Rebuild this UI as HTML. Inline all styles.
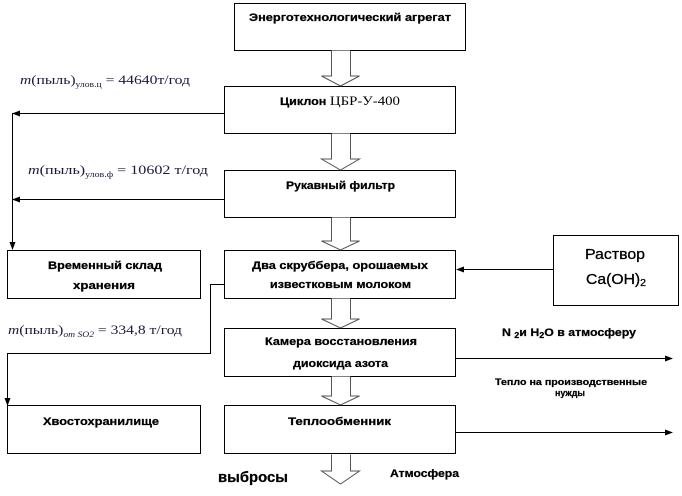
<!DOCTYPE html>
<html><head><meta charset="utf-8">
<style>
html,body{margin:0;padding:0;background:#fff;}
svg{display:block;}
.b{font-family:"Liberation Sans","DejaVu Sans",sans-serif;font-weight:bold;fill:#000;stroke:#000;stroke-width:0.25;}
.m{font-family:"Liberation Serif","DejaVu Serif",serif;fill:#1a1a3a;}
</style></head>
<body>
<svg width="682" height="496" viewBox="0 0 682 496" xmlns="http://www.w3.org/2000/svg">
<defs>
<marker id="ah" markerWidth="8" markerHeight="8" refX="7" refY="4" orient="auto" markerUnits="userSpaceOnUse">
<path d="M0,1 L8,4 L0,7 z" fill="#000"/>
</marker>
</defs>
<g fill="#fff" stroke="#000" stroke-width="1">
<rect x="234.5" y="3.5" width="231" height="47"/>
<rect x="224.5" y="86.5" width="231" height="47"/>
<rect x="224.5" y="170.5" width="231" height="47"/>
<rect x="224.5" y="250.5" width="231" height="48"/>
<rect x="224.5" y="328.5" width="231" height="48"/>
<rect x="224.5" y="405.5" width="231" height="48"/>
<rect x="7.5" y="250.5" width="193" height="48"/>
<rect x="7.5" y="405.5" width="193" height="48"/>
<rect x="553.5" y="235.5" width="125" height="70"/>
</g>
<g fill="#fff" stroke="#555" stroke-width="1">
<path d="M331.5,50.5 V76 H321.5 L340.5,86 L359.5,76 H350.5 V50.5"/>
<path d="M331.5,133.5 V159 H321.5 L340.5,170 L359.5,159 H350.5 V133.5"/>
<path d="M331.5,217.5 V241 H321.5 L340.5,250 L359.5,241 H350.5 V217.5"/>
<path d="M331.5,298.5 V319 H321.5 L340.5,328 L359.5,319 H350.5 V298.5"/>
<path d="M331.5,376.5 V396 H321.5 L340.5,405 L359.5,396 H350.5 V376.5"/>
<path d="M331.5,454.5 V471 H321.5 L340.5,484 L359.5,471 H350.5 V454.5"/>
</g>
<g stroke="#000" stroke-width="1" fill="none">
<line x1="224" y1="113.5" x2="13" y2="113.5" marker-end="url(#ah)"/>
<line x1="12.5" y1="113" x2="12.5" y2="249" marker-end="url(#ah)"/>
<line x1="224" y1="199.5" x2="13" y2="199.5" marker-end="url(#ah)"/>
<line x1="553" y1="269.5" x2="457" y2="269.5" marker-end="url(#ah)"/>
<polyline points="224,284.5 210.5,284.5 210.5,353.5 7.5,353.5"/>
<line x1="7.5" y1="353" x2="7.5" y2="405" marker-end="url(#ah)"/>
<line x1="456" y1="358.5" x2="672" y2="358.5" marker-end="url(#ah)"/>
<line x1="456" y1="432.5" x2="672" y2="432.5" marker-end="url(#ah)"/>
</g>
<text class="b" x="249" y="21" font-size="11" textLength="202" lengthAdjust="spacingAndGlyphs">Энерготехнологический агрегат</text>
<text x="280" y="105" font-size="11" textLength="120" lengthAdjust="spacingAndGlyphs"><tspan class="b">Циклон </tspan><tspan font-family="Liberation Serif, serif" font-size="13">ЦБР-У-400</tspan></text>
<text class="b" x="286" y="189" font-size="11" textLength="109" lengthAdjust="spacingAndGlyphs">Рукавный фильтр</text>
<text class="b" x="252" y="269" font-size="11" textLength="176" lengthAdjust="spacingAndGlyphs">Два скруббера, орошаемых</text>
<text class="b" x="270" y="288" font-size="11" textLength="141" lengthAdjust="spacingAndGlyphs">известковым молоком</text>
<text class="b" x="48" y="269" font-size="11" textLength="114" lengthAdjust="spacingAndGlyphs">Временный склад</text>
<text class="b" x="73" y="289" font-size="11" textLength="62" lengthAdjust="spacingAndGlyphs">хранения</text>
<text class="b" x="265" y="345" font-size="11" textLength="152" lengthAdjust="spacingAndGlyphs">Камера восстановления</text>
<text class="b" x="293" y="367" font-size="11" textLength="95" lengthAdjust="spacingAndGlyphs">диоксида азота</text>
<text class="b" x="288" y="425" font-size="11" textLength="103" lengthAdjust="spacingAndGlyphs">Теплообменник</text>
<text class="b" x="43" y="425" font-size="11" textLength="116" lengthAdjust="spacingAndGlyphs">Хвостохранилище</text>
<text class="b" x="218" y="482" font-size="15" textLength="70" lengthAdjust="spacingAndGlyphs">выбросы</text>
<text class="b" x="390" y="477" font-size="11" textLength="69" lengthAdjust="spacingAndGlyphs">Атмосфера</text>
<text x="585" y="259" font-size="15" font-family="Liberation Sans, sans-serif" stroke="#000" stroke-width="0.3" textLength="60" lengthAdjust="spacingAndGlyphs">Раствор</text>
<text x="586" y="284" font-size="15" font-family="Liberation Sans, sans-serif" stroke="#000" stroke-width="0.3" textLength="60" lengthAdjust="spacingAndGlyphs">Ca(OH)<tspan font-size="10" dy="2">2</tspan></text>
<text class="b" x="502" y="336" font-size="11" textLength="134" lengthAdjust="spacingAndGlyphs">N <tspan font-size="8" dy="2">2</tspan><tspan dy="-2">и H</tspan><tspan font-size="8" dy="2">2</tspan><tspan dy="-2">O в атмосферу</tspan></text>
<text class="b" x="495" y="385" font-size="9" textLength="152" lengthAdjust="spacingAndGlyphs">Тепло на производственные</text>
<text class="b" x="555" y="396" font-size="9" textLength="30" lengthAdjust="spacingAndGlyphs">нужды</text>
<text class="m" x="20" y="84" font-size="13" textLength="170" lengthAdjust="spacingAndGlyphs"><tspan font-style="italic">m</tspan>(пыль)<tspan font-size="8" dy="3">улов.ц</tspan><tspan dy="-3"> = 44640т/год</tspan></text>
<text class="m" x="28" y="174" font-size="13" textLength="180" lengthAdjust="spacingAndGlyphs"><tspan font-style="italic">m</tspan>(пыль)<tspan font-size="8" dy="3">улов.ф</tspan><tspan dy="-3"> = 10602  т/год</tspan></text>
<text class="m" x="8" y="334" font-size="13" textLength="174" lengthAdjust="spacingAndGlyphs"><tspan font-style="italic">m</tspan>(пыль)<tspan font-size="8" dy="3" font-style="italic">от SO2</tspan><tspan dy="-3"> = 334,8 т/год</tspan></text>
</svg>
</body></html>
